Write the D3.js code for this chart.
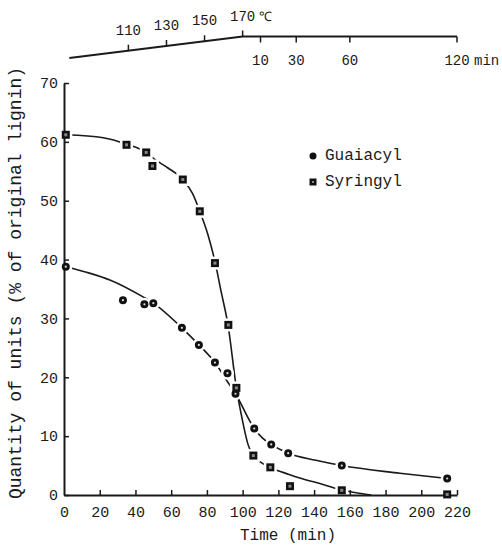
<!DOCTYPE html>
<html>
<head>
<meta charset="utf-8">
<script src="https://cdn.jsdelivr.net/npm/d3@7/dist/d3.min.js"></script>
<style>
  html, body { margin: 0; padding: 0; background: #fff; }
  svg { display: block; }
  text { font-family: "Liberation Mono", "DejaVu Sans Mono", monospace; fill: #1a1a1a; }
</style>
</head>
<body>
<svg id="chart" width="502" height="545"></svg>
<script>
// ---------- data ----------
const xTicks = [0, 20, 40, 60, 80, 100, 120, 140, 160, 180, 200, 220];
const yTicks = [0, 10, 20, 30, 40, 50, 60, 70];

// measured points
const guaiacylTime  = [1, 33, 45, 50, 66, 75.5, 84.5, 91.5, 96, 106.5, 116, 125.5, 155.5, 214.5];
const guaiacylValue = [38.8, 33.1, 32.4, 32.6, 28.4, 25.5, 22.5, 20.7, 17.2, 11.3, 8.6, 7.1, 5.0, 2.8];
const syringylTime  = [1, 35, 46, 49.5, 66.5, 76, 84.5, 92, 96.5, 106, 115.5, 126.5, 155.5, 214.5];
const syringylValue = [61.2, 59.5, 58.2, 55.9, 53.6, 48.2, 39.4, 28.9, 18.2, 6.7, 4.7, 1.5, 0.8, 0.1];

// hand-drawn fitted curves
const guaiacylCurveTime  = [1, 12, 26, 44, 50, 66, 75.5, 84.5, 91, 96, 106.5, 111, 116, 125.5, 141, 155.5, 188, 214.5];
const guaiacylCurveValue = [38.8, 37.9, 36.5, 33.7, 32.6, 28.4, 25.5, 22.5, 19.5, 17.2, 11.3, 9.7, 8.6, 7.1, 5.9, 5.0, 3.7, 2.8];
const syringylCurveTime  = [1, 22, 35, 46, 50, 58, 66.5, 72, 76, 80.5, 84.7, 88, 91.8, 96.5, 100, 103, 106, 110, 116, 126, 132, 145, 156, 165, 172];
const syringylCurveValue = [61.2, 60.7, 59.6, 58.2, 57.2, 55.6, 53.6, 51.2, 48.2, 44.3, 39.4, 34.5, 28.9, 18.2, 12.5, 8.6, 6.6, 5.6, 4.6, 3.5, 2.9, 1.8, 0.8, 0.3, 0];

// heating profile (top scale)
const heatTime = [3, 100, 220];
const heatTemp = [79, 170, 170];
const tempTicks = [110, 130, 150, 170];
const holdTicks = [10, 30, 60, 120];

const seriesNames = ["Guaiacyl", "Syringyl"];

// ---------- layout ----------
const svg = d3.select("#chart");
const x = d3.scaleLinear().domain([0, 220]).range([64, 457]);
const y = d3.scaleLinear().domain([0, 70]).range([495, 83]);
const yTop = d3.scaleLinear().domain([heatTemp[0], heatTemp[1]]).range([58, 36.5]);
const tempToTime = d3.scaleLinear().domain([heatTemp[0], heatTemp[1]]).range([heatTime[0], heatTime[1]]);

const gPts = guaiacylTime.map((t, i) => ({ t, v: guaiacylValue[i] }));
const sPts = syringylTime.map((t, i) => ({ t, v: syringylValue[i] }));
const gCurve = guaiacylCurveTime.map((t, i) => ({ t, v: guaiacylCurveValue[i] }));
const sCurve = syringylCurveTime.map((t, i) => ({ t, v: syringylCurveValue[i] }));

const line = d3.line().x(d => x(d.t)).y(d => y(d.v)).curve(d3.curveMonotoneX);

// curves
svg.append("path").datum(gCurve).attr("d", line)
  .attr("fill", "none").attr("stroke", "#1a1a1a").attr("stroke-width", 1.6);
svg.append("path").datum(sCurve).attr("d", line)
  .attr("fill", "none").attr("stroke", "#1a1a1a").attr("stroke-width", 1.6);

// halos (gaps in the curves around the markers)
svg.append("g").selectAll("circle").data(gPts).join("circle")
  .attr("cx", d => x(d.t)).attr("cy", d => y(d.v)).attr("r", 6.5).attr("fill", "#fff");
svg.append("g").selectAll("rect").data(sPts).join("rect")
  .attr("x", d => x(d.t) - 6.5).attr("y", d => y(d.v) - 6.5)
  .attr("width", 13).attr("height", 13).attr("fill", "#fff");

// axes
const xAxis = d3.axisBottom(x).tickValues(xTicks).tickSize(-5).tickSizeOuter(0).tickPadding(11);
const yAxis = d3.axisLeft(y).tickValues(yTicks).tickSize(-5).tickSizeOuter(0).tickPadding(6);

const gx = svg.append("g").attr("transform", `translate(0,${y(0)})`).call(xAxis);
const gy = svg.append("g").attr("transform", `translate(${x(0)},0)`).call(yAxis);
[gx, gy].forEach(g => {
  g.select(".domain").attr("stroke", "#1a1a1a").attr("stroke-width", 2);
  g.selectAll(".tick line").attr("stroke", "#1a1a1a").attr("stroke-width", 1.5);
  g.selectAll(".tick text").style("font-family", '"Liberation Mono", monospace')
    .style("font-size", "15px").attr("fill", "#1a1a1a");
});
gx.selectAll(".tick").filter(d => d === 0).select("line").remove();

// axis titles
svg.append("text").attr("x", 288).attr("y", 540).attr("text-anchor", "middle")
  .style("font-size", "16px").text("Time (min)");
svg.append("text").attr("transform", "translate(21,283) rotate(-90)").attr("text-anchor", "middle")
  .style("font-size", "18px").text("Quantity of units (% of original lignin)");

// markers
const gMark = svg.append("g").selectAll("g").data(gPts).join("g")
  .attr("transform", d => `translate(${x(d.t)},${y(d.v)})`);
gMark.append("circle").attr("r", 4).attr("fill", "#111");
gMark.append("circle").attr("r", 1.1).attr("fill", "#ddd");

const sMark = svg.append("g").selectAll("g").data(sPts).join("g")
  .attr("transform", d => `translate(${x(d.t)},${y(d.v)})`);
sMark.append("rect").attr("x", -4).attr("y", -4).attr("width", 8).attr("height", 8).attr("fill", "#111");
sMark.append("rect").attr("x", -1.5).attr("y", -1.5).attr("width", 3).attr("height", 3).attr("fill", "#888");

// legend
const legend = svg.append("g");
seriesNames.forEach((name, i) => {
  const ly = 156 + i * 26;
  if (i === 0) {
    legend.append("circle").attr("cx", 313).attr("cy", ly).attr("r", 3.5).attr("fill", "#111");
  } else {
    legend.append("rect").attr("x", 309.5).attr("y", ly - 3.5).attr("width", 7).attr("height", 7).attr("fill", "#111");
    legend.append("rect").attr("x", 312).attr("y", ly - 1).attr("width", 2).attr("height", 2).attr("fill", "#888");
  }
  legend.append("text").attr("x", 325).attr("y", ly).attr("dominant-baseline", "central")
    .style("font-size", "16px").text(name);
});

// top heating scale
const profile = heatTime.map((t, i) => ({ t, T: heatTemp[i] }));
svg.append("path").datum(profile)
  .attr("d", d3.line().x(d => x(d.t)).y(d => yTop(d.T)))
  .attr("fill", "none").attr("stroke", "#1a1a1a").attr("stroke-width", 2);

const topG = svg.append("g");
tempTicks.forEach((T, i) => {
  const tx = x(tempToTime(T));
  const ty = yTop(T);
  topG.append("line").attr("x1", tx).attr("x2", tx).attr("y1", ty).attr("y2", ty - 6)
    .attr("stroke", "#1a1a1a").attr("stroke-width", 1.5);
  topG.append("text").attr("x", tx).attr("y", ty - 16).attr("text-anchor", "middle")
    .style("font-size", "14px").text(T);
  if (i === tempTicks.length - 1) {
    topG.append("text").attr("x", tx + 16).attr("y", ty - 16).attr("text-anchor", "start")
      .style("font-size", "13px").text("℃");
  }
});
const flatY = yTop(heatTemp[2]);
holdTicks.forEach((h, i) => {
  const tx = x(heatTime[1] + h);
  topG.append("line").attr("x1", tx).attr("x2", tx).attr("y1", flatY).attr("y2", flatY + 6)
    .attr("stroke", "#1a1a1a").attr("stroke-width", 1.5);
  topG.append("text").attr("x", tx).attr("y", flatY + 28).attr("text-anchor", "middle")
    .style("font-size", "14px").text(h);
  if (i === holdTicks.length - 1) {
    topG.append("text").attr("x", tx + 17).attr("y", flatY + 28).attr("text-anchor", "start")
      .style("font-size", "14px").text("min");
  }
});
</script>
</body>
</html>
